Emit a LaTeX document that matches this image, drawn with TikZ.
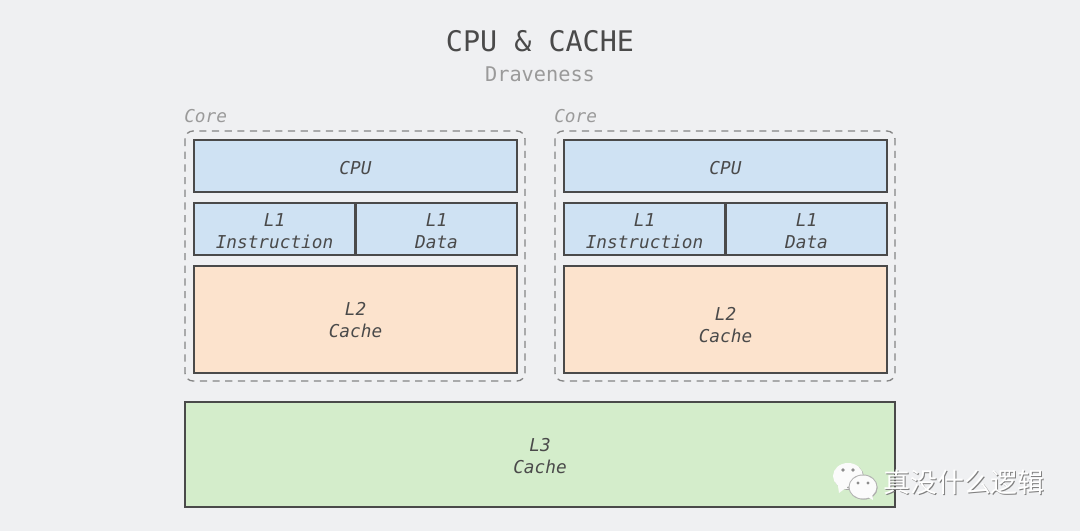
\documentclass[tikz,border=0pt]{standalone}
\usepackage{fontspec}
\setmonofont{DejaVu Sans Mono}
\newfontfamily\cjkfont{Noto Sans CJK SC}
\usepackage{xcolor}
\definecolor{pagebg}{HTML}{EFF0F2}
\definecolor{inkgray}{HTML}{4A4A4A}
\definecolor{softgray}{HTML}{9A9A9A}
\definecolor{framegray}{HTML}{858585}
\definecolor{cpublue}{HTML}{CFE2F3}
\definecolor{ltwoorange}{HTML}{FCE3CD}
\definecolor{lthreegreen}{HTML}{D4EDCB}
\tikzset{
  block/.style={draw=inkgray, line width=1.3pt},
  blocktext/.style={font=\ttfamily\itshape\fontsize{13.3}{16.5}\selectfont, text=inkgray, align=center, inner sep=0pt},
  coreframe/.style={draw=framegray, line width=1pt, dash pattern=on 5.4pt off 4.1pt, rounded corners=6pt},
}
\begin{document}
\begin{tikzpicture}[x=0.75pt, y=-0.75pt]
\useasboundingbox (0,0) rectangle (1080,531);
\fill[pagebg] (0,0) rectangle (1080,531);

% Heading
\node[font=\ttfamily\fontsize{21.3}{24}\selectfont, text=inkgray, inner sep=0pt] (title) at (540,41) {CPU \& CACHE};
\node[font=\ttfamily\fontsize{15.2}{18}\selectfont, text=softgray, inner sep=0pt] (author) at (540,74) {Draveness};

% Two cores, the second one holds its L2 text a little lower
\foreach \i/\cx/\ly in {1/0/331, 2/370/336} {
  \begin{scope}[shift={(\cx,0)}]
    \node[font=\ttfamily\itshape\fontsize{13.3}{16}\selectfont, text=softgray, inner sep=0pt, anchor=west] (corelabel\i) at (184,116) {Core};
    \draw[coreframe] (185,131) rectangle (525,381);

    % CPU
    \draw[block, fill=cpublue] (194,140) rectangle (517,192);
    \node[blocktext] (cpu\i) at (355.5,168.5) {CPU};

    % L1
    \draw[block, fill=cpublue] (194,203) rectangle (355,255);
    \draw[block, fill=cpublue] (356,203) rectangle (517,255);
    \node[blocktext] (lonei\i) at (274.5,231) {L1\\Instruction};
    \node[blocktext] (loned\i) at (436.5,231) {L1\\Data};

    % L2
    \draw[block, fill=ltwoorange] (194,266) rectangle (517,373);
    \node[blocktext] (ltwo\i) at (355.5,\ly-10.5) {L2\\Cache};
  \end{scope}
}

% L3
\draw[block, fill=lthreegreen] (185,402) rectangle (895,507);
\node[blocktext] (lthree) at (540,456) {L3\\Cache};

% Watermark
\begin{scope}[shift={(1,1)}]
  \fill[black!35] (848,476) ellipse (15 and 13);
  \fill[black!35] (863,487) ellipse (13.5 and 11.5);
\end{scope}
\fill[white!97!gray] (848,476) ellipse (15 and 13);
\fill[white!97!gray] (838,486) -- (839,493) -- (847,487) -- cycle;
\fill[black!35] (849,487.5) ellipse (2 and 1);
\fill[black!30] (863,487) ellipse (14.5 and 12.5);
\fill[white!97!gray] (863,487) ellipse (13.5 and 11.5);
\fill[white!97!gray] (866,496) -- (873,500) -- (872,493) -- cycle;
\fill[black!45] (843,470) circle (1.8) (853,470) circle (1.8);
\fill[black!45] (858,483) circle (1.6) (868,483) circle (1.6);
\node[font=\cjkfont\fontsize{20.2}{24}\selectfont, text=black!50, inner sep=0pt] (markshadow) at (965,483) {真没什么逻辑};
\node[font=\cjkfont\fontsize{20.2}{24}\selectfont, text=white, inner sep=0pt] (mark) at (964,482) {真没什么逻辑};
\end{tikzpicture}
\end{document}
